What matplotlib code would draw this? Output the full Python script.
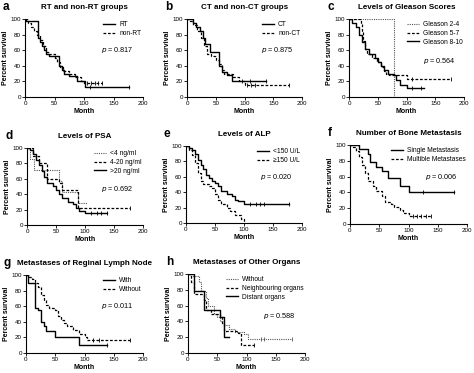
import matplotlib
matplotlib.use("Agg")
import matplotlib.pyplot as plt
from matplotlib.lines import Line2D

plt.rcParams['font.family'] = ['Liberation Sans', 'DejaVu Sans']

W, H = 474, 373

# survival step data: (month, percent) change points for each group
a_rt_t = [0, 2, 22, 25, 28, 32, 36, 40, 57, 62, 66, 75, 88, 102, 177]
a_rt_s = [100, 97, 75, 70, 65, 60, 55, 53, 40, 35, 30, 27, 20, 13, 13]
a_non_t = [0, 5, 10, 15, 20, 25, 30, 35, 40, 50, 55, 60, 65, 75, 85, 95, 100, 130]
a_non_s = [100, 95, 90, 85, 80, 73, 65, 58, 55, 50, 45, 38, 33, 30, 25, 20, 18, 18]

b_ct_t = [0, 10, 15, 22, 28, 32, 40, 55, 60, 70, 78, 138]
b_ct_s = [100, 95, 90, 84, 75, 68, 58, 40, 32, 28, 21, 21]
b_non_t = [0, 5, 10, 18, 25, 30, 35, 42, 50, 55, 60, 65, 80, 90, 100, 177]
b_non_s = [100, 97, 92, 85, 75, 65, 55, 52, 47, 42, 35, 30, 25, 20, 16, 16]

c_g24_t = [0, 78, 78]
c_g24_s = [100, 100, 0]
c_g57_t = [0, 20, 22, 25, 28, 32, 40, 48, 55, 60, 65, 70, 100, 177]
c_g57_s = [100, 93, 85, 72, 62, 55, 50, 45, 38, 33, 30, 28, 23, 23]
c_g810_t = [0, 5, 12, 18, 22, 28, 35, 45, 50, 55, 60, 68, 78, 82, 88, 100, 130]
c_g810_s = [100, 95, 90, 80, 70, 62, 55, 50, 45, 40, 35, 30, 28, 22, 15, 12, 12]

d_lo_t = [0, 5, 12, 55, 60, 88, 103]
d_lo_s = [100, 86, 71, 57, 43, 29, 29]
d_mid_t = [0, 10, 20, 35, 55, 60, 88, 177]
d_mid_s = [100, 90, 80, 60, 55, 45, 22, 22]
d_hi_t = [0, 5, 10, 15, 20, 25, 30, 35, 45, 50, 55, 60, 70, 80, 85, 90, 100, 138]
d_hi_s = [100, 97, 92, 85, 78, 70, 62, 55, 50, 45, 40, 35, 30, 27, 22, 18, 15, 15]

e_lo_t = [0, 5, 10, 15, 20, 25, 30, 35, 40, 45, 50, 55, 60, 70, 80, 85, 90, 100, 177]
e_lo_s = [100, 98, 95, 90, 82, 75, 70, 62, 58, 55, 52, 48, 42, 38, 35, 30, 28, 25, 25]
e_hi_t = [0, 5, 10, 15, 20, 25, 30, 40, 45, 50, 55, 60, 70, 75, 85, 95, 100]
e_hi_s = [100, 95, 88, 78, 65, 55, 50, 48, 45, 38, 30, 25, 20, 15, 10, 5, 0]

f_single_t = [0, 15, 30, 35, 45, 55, 65, 85, 100, 177]
f_single_s = [100, 95, 88, 78, 72, 67, 58, 48, 40, 40]
f_multi_t = [0, 5, 10, 15, 20, 25, 30, 40, 45, 55, 60, 70, 75, 85, 90, 100, 103, 138]
f_multi_s = [100, 97, 92, 85, 75, 65, 55, 48, 42, 35, 28, 25, 22, 18, 14, 12, 10, 10]

g_with_t = [0, 3, 15, 20, 25, 30, 35, 50, 90, 138]
g_with_s = [100, 90, 58, 55, 40, 35, 28, 21, 10, 10]
g_without_t = [0, 5, 10, 15, 20, 25, 30, 35, 40, 50, 55, 60, 65, 70, 80, 90, 100, 105, 177]
g_without_s = [100, 98, 95, 90, 85, 75, 68, 62, 58, 55, 48, 42, 38, 35, 30, 25, 20, 17, 17]

h_none_t = [0, 5, 18, 22, 30, 35, 45, 50, 55, 62, 70, 80, 95, 103, 177]
h_none_s = [100, 97, 90, 78, 70, 60, 50, 45, 40, 35, 30, 26, 24, 18, 18]
h_neigh_t = [0, 5, 10, 28, 30, 40, 55, 58, 62, 85, 90, 113]
h_neigh_s = [100, 90, 75, 67, 55, 50, 45, 38, 28, 25, 10, 10]
h_dist_t = [0, 10, 28, 55, 62, 70]
h_dist_s = [100, 78, 55, 45, 20, 20]

# censor marks on the flat tails
a_rt_c = [110, 177]
a_non_c = [105, 112, 118, 124, 130]
b_ct_c = [95, 110, 138]
b_non_c = [105, 112, 118, 177]
c_g57_c = [110, 177]
c_g810_c = [110, 125]
d_mid_c = [177]
d_hi_c = [110, 120, 128, 138]
e_lo_c = [110, 120, 128, 135, 177]
f_single_c = [125, 177]
f_multi_c = [108, 115, 122, 130, 138]
g_with_c = [138]
g_without_c = [115, 125, 177]
h_none_c = [125, 130, 177]
h_neigh_c = [113]

STYLES = {
    'solid': dict(color='black', linestyle='-', lw=1.0),
    'dash': dict(color='black', linestyle=(0, (2.2, 1.4)), lw=0.9),
    'dot': dict(color='#555555', linestyle=(0, (1, 1)), lw=0.8),
}

panels = [
    ('a', 'RT and non-RT groups', (25, 19, 143, 97), '0.817',
     [('RT', a_rt_t, a_rt_s, a_rt_c, 'solid'),
      ('non-RT', a_non_t, a_non_s, a_non_c, 'dash')]),
    ('b', 'CT and non-CT groups', (187, 19, 302, 97), '0.875',
     [('CT', b_ct_t, b_ct_s, b_ct_c, 'solid'),
      ('non-CT', b_non_t, b_non_s, b_non_c, 'dash')]),
    ('c', 'Levels of Gleason Scores', (349, 19, 464, 97), '0.564',
     [('Gleason 2-4', c_g24_t, c_g24_s, [], 'dot'),
      ('Gleason 5-7', c_g57_t, c_g57_s, c_g57_c, 'dash'),
      ('Gleason 8-10', c_g810_t, c_g810_s, c_g810_c, 'solid')]),
    ('d', 'Levels of PSA', (27, 148, 143, 225), '0.692',
     [('<4 ng/ml', d_lo_t, d_lo_s, [], 'dot'),
      ('4-20 ng/ml', d_mid_t, d_mid_s, d_mid_c, 'dash'),
      ('>20 ng/ml', d_hi_t, d_hi_s, d_hi_c, 'solid')]),
    ('e', 'Levels of ALP', (186, 146, 302, 223), '0.020',
     [('<150 U/L', e_lo_t, e_lo_s, e_lo_c, 'solid'),
      ('\u2265150 U/L', e_hi_t, e_hi_s, [], 'dash')]),
    ('f', 'Number of Bone Metastasis', (350, 145, 467, 224), '0.006',
     [('Single Metastasis', f_single_t, f_single_s, f_single_c, 'solid'),
      ('Multible Metastases', f_multi_t, f_multi_s, f_multi_c, 'dash')]),
    ('g', 'Metastases of Reginal Lymph Node', (26, 275, 143, 353), '0.011',
     [('With', g_with_t, g_with_s, g_with_c, 'solid'),
      ('Without', g_without_t, g_without_s, g_without_c, 'dash')]),
    ('h', 'Metastases of Other Organs', (188, 274, 305, 353), '0.588',
     [('Without', h_none_t, h_none_s, h_none_c, 'dot'),
      ('Neighbouring organs', h_neigh_t, h_neigh_s, h_neigh_c, 'dash'),
      ('Distant organs', h_dist_t, h_dist_s, [], 'solid')]),
]


def step_value(t, s, x):
    v = s[0]
    for ti, si in zip(t, s):
        if ti <= x:
            v = si
    return v


fig = plt.figure(figsize=(W / 100, H / 100), dpi=100)

for letter, title, (x0, y0, x1, y1), pval, curves in panels:
    ax = fig.add_axes([x0 / W, 1 - y1 / H, (x1 - x0) / W, (y1 - y0) / H])
    handles = []
    for label, t, s, cens, style in curves:
        st = STYLES[style]
        ax.step(t, s, where='post', **st)
        if cens:
            ax.plot(cens, [step_value(t, s, c) for c in cens], linestyle='none',
                    marker='|', ms=2.5, mew=0.6, color=st['color'])
        handles.append(Line2D([], [], **st))
    ax.set_xlim(0, 200)
    ax.set_ylim(0, 100)
    ax.set_xticks([0, 50, 100, 150, 200])
    ax.set_yticks([0, 20, 40, 60, 80, 100])
    for sp in ('top', 'right'):
        ax.spines[sp].set_visible(False)
    for sp in ('left', 'bottom'):
        ax.spines[sp].set_linewidth(0.8)
    ax.tick_params(labelsize=4.5, length=2, width=0.6, pad=1)
    ax.set_xlabel('Month', fontsize=5, fontweight='bold', labelpad=1)
    ax.set_ylabel('Percent survival', fontsize=5, fontweight='bold', labelpad=1)
    ax.legend(handles, [c[0] for c in curves], loc='upper right',
              bbox_to_anchor=(1.02, 1.02), frameon=False, fontsize=4.8,
              handlelength=1.8, handletextpad=0.6, labelspacing=0.25,
              borderaxespad=0.2)
    n = len(curves)
    ax.text(0.64, 0.95 - 0.135 * n - 0.08, r'$p$ = ' + pval, transform=ax.transAxes,
            fontsize=5.2, va='center', ha='left')
    ax.set_title(title, fontsize=5.8, fontweight='bold', pad=7)
    fig.text((x0 - 22) / W, 1 - (y0 - 18) / H, letter, fontsize=8.5,
             fontweight='bold', va='top', ha='left')

fig.savefig('out.png', dpi=100)
